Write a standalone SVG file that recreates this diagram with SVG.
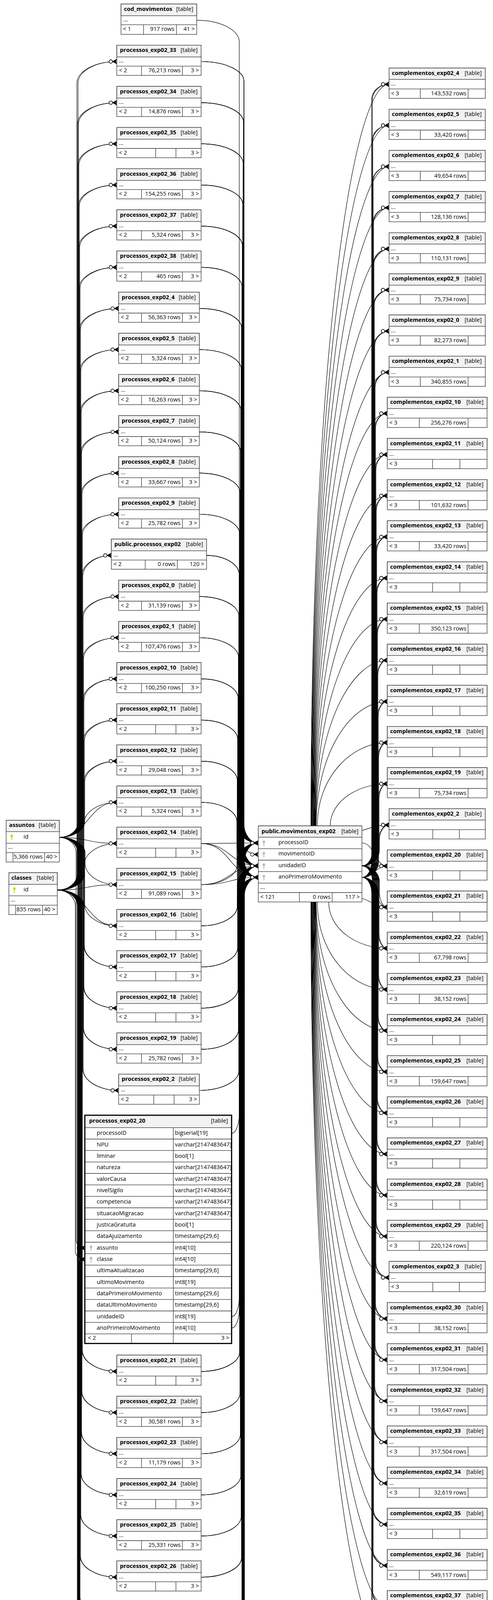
<svg xmlns="http://www.w3.org/2000/svg" xmlns:xlink="http://www.w3.org/1999/xlink" width="1263" height="4865" viewBox="0 0 1263 4865">
<defs>
<style>
text{font-family:"Open Sans","Noto Sans","DejaVu Sans",sans-serif;font-size:14.67px;fill:#000}
.b{font-weight:700}
.e{text-anchor:end}
.bx{fill:#fff;stroke:#333;stroke-width:1.3}
.hd{fill:#f2f2f2;stroke:#333;stroke-width:1.3}
.ln{fill:none;stroke:#333;stroke-width:1.3}
#connectors path{fill:none;stroke:#000;stroke-width:1.2;marker-end:url(#cf)}
</style>
<marker id="cf" markerUnits="userSpaceOnUse" viewBox="-22 -8 24 16" refX="0" refY="0" markerWidth="24" markerHeight="16" orient="auto">
<path d="M-11,0L0,-6L-3.5,0L0,6ZM-11,0H0" fill="#000" stroke="#000" stroke-width="1"/>
<circle cx="-15.5" cy="0" r="4.3" fill="#fff" stroke="#000" stroke-width="1.4"/>
</marker>
<g id="key"><circle r="3.4"/><rect x="-1.1" y="0" width="2.2" height="11"/></g>
<g id="f2"><rect class="bx" width="216" height="77.3"/><rect class="hd" width="216" height="30"/><path class="ln" d="M0,53.6H216M63.2,53.6V77.3M168,53.6V77.3"/></g>
<g id="f2b"><rect class="bx" width="216" height="77.3"/><rect class="hd" width="216" height="30"/><path class="ln" d="M0,53.6H216M99.4,53.6V77.3M151.4,53.6V77.3"/></g>
<g id="f1"><rect class="bx" width="206.6" height="77.3"/><rect class="hd" width="206.6" height="30"/><path class="ln" d="M0,53.6H206.6M58.5,53.6V77.3M163.3,53.6V77.3"/></g>
<g id="f1b"><rect class="bx" width="206.6" height="77.3"/><rect class="hd" width="206.6" height="30"/><path class="ln" d="M0,53.6H206.6M90,53.6V77.3M142,53.6V77.3"/></g>
<g id="c1"><rect class="bx" width="246.6" height="77.4"/><rect class="hd" width="246.6" height="29"/><path class="ln" d="M0,53.4H246.6M80,53.4V77.4M202.6,53.4V77.4"/></g>
<g id="c1b"><rect class="bx" width="246.6" height="77.4"/><rect class="hd" width="246.6" height="29"/><path class="ln" d="M0,53.4H246.6M112,53.4V77.4M180,53.4V77.4"/></g>
<g id="c2"><rect class="bx" width="255.6" height="77.4"/><rect class="hd" width="255.6" height="29"/><path class="ln" d="M0,53.4H255.6M82,53.4V77.4M207,53.4V77.4"/></g>
<g id="c2b"><rect class="bx" width="255.6" height="77.4"/><rect class="hd" width="255.6" height="29"/><path class="ln" d="M0,53.4H255.6M116,53.4V77.4M186,53.4V77.4"/></g>
</defs>
<rect width="1263" height="4865" fill="#fff"/>
<g id="connectors">
<path d="M504,51.8c60,0 109,25 109,55V2137.4c0,27.5 21.9,50 48.7,50"/>
<path d="M152,2143.8c26.4,0 48,-18 48,-40V212.5c0,-30 44.7,-55 99.3,-55"/>
<path d="M152,2143.8c27,0 49,-18 49,-40V317.9c0,-30 44.2,-55 98.3,-55"/>
<path d="M152,2143.8c27.5,0 50,-18 50,-40V423.2c0,-30 43.8,-55 97.3,-55"/>
<path d="M152,2143.8c28,0 51,-18 51,-40V528.6c0,-30 43.3,-55 96.3,-55"/>
<path d="M152,2143.8c28.6,0 52,-18 52,-40V633.9c0,-30 42.9,-55 95.3,-55"/>
<path d="M152,2143.8c29.2,0 53,-18 53,-40V739.3c0,-30 42.4,-55 94.3,-55"/>
<path d="M152,2143.8c29.7,0 54,-18 54,-40V844.7c0,-30 44.1,-55 98,-55"/>
<path d="M152,2143.8c30.3,0 55,-18 55,-40V950c0,-30 43.7,-55 97,-55"/>
<path d="M152,2143.8c30.8,0 56,-18 56,-40V1055.4c0,-30 43.2,-55 96,-55"/>
<path d="M152,2143.8c31.4,0 57,-18 57,-40V1160.7c0,-30 42.8,-55 95,-55"/>
<path d="M152,2143.8c31.9,0 58,-18 58,-40V1266.1c0,-30 42.3,-55 94,-55"/>
<path d="M152,2143.8c32.5,0 59,-18 59,-40V1371.5c0,-30 41.9,-55 93,-55"/>
<path d="M152,2143.8c33,0 60,-18 60,-40V1476.8c0,-30 33,-55 73.3,-55"/>
<path d="M152,2143.8c33.6,0 61,-18 61,-40V1582.2c0,-30 41,-55 91,-55"/>
<path d="M152,2143.8c34.1,0 62,-18 62,-40V1687.5c0,-30 40.5,-55 90,-55"/>
<path d="M152,2143.8c34.7,0 63,-18 63,-40V1792.9c0,-30 37.9,-55 84.3,-55"/>
<path d="M152,2143.8c35.2,0 64,-18 64,-40V1898.3c0,-30 37.5,-55 83.3,-55"/>
<path d="M152,2143.8c35.8,0 65,-18 65,-40V2003.6c0,-30 37,-55 82.3,-55"/>
<path d="M152,2143.8C225,2143.8 225,2054 299.3,2054"/>
<path d="M152,2143.8C225,2143.8 225,2159.3 299.3,2159.3"/>
<path d="M152,2143.8c36.3,0 66,18 66,40V2209.7c0,30 36.6,55 81.3,55"/>
<path d="M152,2143.8c35.8,0 65,18 65,40V2315.1c0,30 37,55 82.3,55"/>
<path d="M152,2143.8c35.2,0 64,18 64,40V2420.4c0,30 37.5,55 83.3,55"/>
<path d="M152,2143.8c34.7,0 63,18 63,40V2525.8c0,30 37.9,55 84.3,55"/>
<path d="M152,2143.8c34.1,0 62,18 62,40V2631.1c0,30 38.4,55 85.3,55"/>
<path d="M152,2143.8c33.6,0 61,18 61,40V2736.5c0,30 41,55 91,55"/>
<path d="M152,2143.8c23.7,0 43,18 43,40V3174.7c0,11 10,20 22.3,20"/>
<path d="M152,2143.8c32.5,0 59,18 59,40V3455.8c0,30 39.7,55 88.3,55"/>
<path d="M152,2143.8c31.9,0 58,18 58,40V3561.2c0,30 40.2,55 89.3,55"/>
<path d="M152,2143.8c31.4,0 57,18 57,40V3666.5c0,30 40.6,55 90.3,55"/>
<path d="M152,2143.8c30.8,0 56,18 56,40V3771.9c0,30 41.1,55 91.3,55"/>
<path d="M152,2143.8c30.3,0 55,18 55,40V3877.2c0,30 41.5,55 92.3,55"/>
<path d="M152,2143.8c29.7,0 54,18 54,40V3982.6c0,30 42,55 93.3,55"/>
<path d="M152,2143.8c29.2,0 53,18 53,40V4088c0,30 42.4,55 94.3,55"/>
<path d="M152,2143.8c28.6,0 52,18 52,40V4193.3c0,30 42.9,55 95.3,55"/>
<path d="M152,2143.8c28,0 51,18 51,40V4298.7c0,30 43.3,55 96.3,55"/>
<path d="M152,2143.8c27.5,0 50,18 50,40V4404c0,30 45.9,55 102,55"/>
<path d="M152,2143.8c27,0 49,18 49,40V4509.4c0,30 44.2,55 98.3,55"/>
<path d="M152,2143.8c26.4,0 48,18 48,40V4614.8c0,30 44.7,55 99.3,55"/>
<path d="M152,2143.8c25.9,0 47,18 47,40V4720.1c0,30 45.1,55 100.3,55"/>
<path d="M146.7,2278.7c27.7,0 50.3,-18 50.3,-40V212.5c0,-30 46,-55 102.3,-55"/>
<path d="M146.7,2278.7c28.2,0 51.3,-18 51.3,-40V317.9c0,-30 45.6,-55 101.3,-55"/>
<path d="M146.7,2278.7c28.8,0 52.3,-18 52.3,-40V423.2c0,-30 45.1,-55 100.3,-55"/>
<path d="M146.7,2278.7c29.3,0 53.3,-18 53.3,-40V528.6c0,-30 44.7,-55 99.3,-55"/>
<path d="M146.7,2278.7c29.9,0 54.3,-18 54.3,-40V633.9c0,-30 44.2,-55 98.3,-55"/>
<path d="M146.7,2278.7c30.4,0 55.3,-18 55.3,-40V739.3c0,-30 43.8,-55 97.3,-55"/>
<path d="M146.7,2278.7c31,0 56.3,-18 56.3,-40V844.7c0,-30 45.5,-55 101,-55"/>
<path d="M146.7,2278.7c31.5,0 57.3,-18 57.3,-40V950c0,-30 45,-55 100,-55"/>
<path d="M146.7,2278.7c32.1,0 58.3,-18 58.3,-40V1055.4c0,-30 44.6,-55 99,-55"/>
<path d="M146.7,2278.7c32.6,0 59.3,-18 59.3,-40V1160.7c0,-30 44.1,-55 98,-55"/>
<path d="M146.7,2278.7c33.2,0 60.3,-18 60.3,-40V1266.1c0,-30 43.7,-55 97,-55"/>
<path d="M146.7,2278.7c33.7,0 61.3,-18 61.3,-40V1371.5c0,-30 43.2,-55 96,-55"/>
<path d="M146.7,2278.7c34.3,0 62.3,-18 62.3,-40V1476.8c0,-30 34.3,-55 76.3,-55"/>
<path d="M146.7,2278.7c34.8,0 63.3,-18 63.3,-40V1582.2c0,-30 42.3,-55 94,-55"/>
<path d="M146.7,2278.7c35.4,0 64.3,-18 64.3,-40V1687.5c0,-30 41.9,-55 93,-55"/>
<path d="M146.7,2278.7c35.9,0 65.3,-18 65.3,-40V1792.9c0,-30 39.3,-55 87.3,-55"/>
<path d="M146.7,2278.7c36.5,0 66.3,-18 66.3,-40V1898.3c0,-30 38.8,-55 86.3,-55"/>
<path d="M146.7,2278.7c37,0 67.3,-18 67.3,-40V2003.6c0,-30 38.4,-55 85.3,-55"/>
<path d="M146.7,2278.7c37.6,0 68.3,-18 68.3,-40V2109c0,-30 37.9,-55 84.3,-55"/>
<path d="M146.7,2278.7c38.1,0 69.3,-18 69.3,-40V2214.3c0,-30 37.5,-55 83.3,-55"/>
<path d="M146.7,2278.7C222,2278.7 222,2264.7 299.3,2264.7"/>
<path d="M146.7,2278.7C222,2278.7 222,2370.1 299.3,2370.1"/>
<path d="M146.7,2278.7c37.6,0 68.3,18 68.3,40V2420.4c0,30 37.9,55 84.3,55"/>
<path d="M146.7,2278.7c37,0 67.3,18 67.3,40V2525.8c0,30 38.4,55 85.3,55"/>
<path d="M146.7,2278.7c36.5,0 66.3,18 66.3,40V2631.1c0,30 38.8,55 86.3,55"/>
<path d="M146.7,2278.7c35.9,0 65.3,18 65.3,40V2736.5c0,30 41.4,55 92,55"/>
<path d="M146.7,2278.7c25.5,0 46.3,18 46.3,40V3203.8c0,11 11,20 24.3,20"/>
<path d="M146.7,2278.7c34.8,0 63.3,18 63.3,40V3455.8c0,30 40.2,55 89.3,55"/>
<path d="M146.7,2278.7c34.3,0 62.3,18 62.3,40V3561.2c0,30 40.6,55 90.3,55"/>
<path d="M146.7,2278.7c33.7,0 61.3,18 61.3,40V3666.5c0,30 41.1,55 91.3,55"/>
<path d="M146.7,2278.7c33.2,0 60.3,18 60.3,40V3771.9c0,30 41.5,55 92.3,55"/>
<path d="M146.7,2278.7c32.6,0 59.3,18 59.3,40V3877.2c0,30 42,55 93.3,55"/>
<path d="M146.7,2278.7c32.1,0 58.3,18 58.3,40V3982.6c0,30 42.4,55 94.3,55"/>
<path d="M146.7,2278.7c31.5,0 57.3,18 57.3,40V4088c0,30 42.9,55 95.3,55"/>
<path d="M146.7,2278.7c31,0 56.3,18 56.3,40V4193.3c0,30 43.3,55 96.3,55"/>
<path d="M146.7,2278.7c30.4,0 55.3,18 55.3,40V4298.7c0,30 43.8,55 97.3,55"/>
<path d="M146.7,2278.7c29.9,0 54.3,18 54.3,40V4404c0,30 46.4,55 103,55"/>
<path d="M146.7,2278.7c29.3,0 53.3,18 53.3,40V4509.4c0,30 44.7,55 99.3,55"/>
<path d="M146.7,2278.7c28.8,0 52.3,18 52.3,40V4614.8c0,30 45.1,55 100.3,55"/>
<path d="M146.7,2278.7c28.2,0 51.3,18 51.3,40V4720.1c0,30 45.6,55 101.3,55"/>
<path d="M515.3,157.5c60.3,0 109.7,22.5 109.7,50V2108c0,27.5 16.5,50 36.7,50"/>
<path d="M515.3,157.5c60.3,0 109.7,22.5 109.7,50V2166.7c0,27.5 16.5,50 36.7,50"/>
<path d="M515.3,157.5c60.3,0 109.7,22.5 109.7,50V2196c0,27.5 16.5,50 36.7,50"/>
<path d="M515.3,262.9c59.8,0 108.7,22.5 108.7,50V2108c0,27.5 17,50 37.7,50"/>
<path d="M515.3,262.9c59.8,0 108.7,22.5 108.7,50V2166.7c0,27.5 17,50 37.7,50"/>
<path d="M515.3,262.9c59.8,0 108.7,22.5 108.7,50V2196c0,27.5 17,50 37.7,50"/>
<path d="M515.3,368.2c59.2,0 107.7,22.5 107.7,50V2108c0,27.5 17.4,50 38.7,50"/>
<path d="M515.3,368.2c59.2,0 107.7,22.5 107.7,50V2166.7c0,27.5 17.4,50 38.7,50"/>
<path d="M515.3,368.2c59.2,0 107.7,22.5 107.7,50V2196c0,27.5 17.4,50 38.7,50"/>
<path d="M515.3,473.6c58.7,0 106.7,22.5 106.7,50V2108c0,27.5 17.9,50 39.7,50"/>
<path d="M515.3,473.6c58.7,0 106.7,22.5 106.7,50V2166.7c0,27.5 17.9,50 39.7,50"/>
<path d="M515.3,473.6c58.7,0 106.7,22.5 106.7,50V2196c0,27.5 17.9,50 39.7,50"/>
<path d="M515.3,578.9c58.1,0 105.7,22.5 105.7,50V2108c0,27.5 18.3,50 40.7,50"/>
<path d="M515.3,578.9c58.1,0 105.7,22.5 105.7,50V2166.7c0,27.5 18.3,50 40.7,50"/>
<path d="M515.3,578.9c58.1,0 105.7,22.5 105.7,50V2196c0,27.5 18.3,50 40.7,50"/>
<path d="M515.3,684.3c57.6,0 104.7,22.5 104.7,50V2108c0,27.5 18.8,50 41.7,50"/>
<path d="M515.3,684.3c57.6,0 104.7,22.5 104.7,50V2166.7c0,27.5 18.8,50 41.7,50"/>
<path d="M515.3,684.3c57.6,0 104.7,22.5 104.7,50V2196c0,27.5 18.8,50 41.7,50"/>
<path d="M510.6,789.7c59.6,0 108.4,22.5 108.4,50V2108c0,27.5 19.2,50 42.7,50"/>
<path d="M510.6,789.7c59.6,0 108.4,22.5 108.4,50V2166.7c0,27.5 19.2,50 42.7,50"/>
<path d="M510.6,789.7c59.6,0 108.4,22.5 108.4,50V2196c0,27.5 19.2,50 42.7,50"/>
<path d="M510.6,895c59.1,0 107.4,22.5 107.4,50V2108c0,27.5 19.7,50 43.7,50"/>
<path d="M510.6,895c59.1,0 107.4,22.5 107.4,50V2166.7c0,27.5 19.7,50 43.7,50"/>
<path d="M510.6,895c59.1,0 107.4,22.5 107.4,50V2196c0,27.5 19.7,50 43.7,50"/>
<path d="M510.6,1000.4c58.5,0 106.4,22.5 106.4,50V2108c0,27.5 20.1,50 44.7,50"/>
<path d="M510.6,1000.4c58.5,0 106.4,22.5 106.4,50V2166.7c0,27.5 20.1,50 44.7,50"/>
<path d="M510.6,1000.4c58.5,0 106.4,22.5 106.4,50V2196c0,27.5 20.1,50 44.7,50"/>
<path d="M510.6,1105.7c58,0 105.4,22.5 105.4,50V2108c0,27.5 20.6,50 45.7,50"/>
<path d="M510.6,1105.7c58,0 105.4,22.5 105.4,50V2166.7c0,27.5 20.6,50 45.7,50"/>
<path d="M510.6,1105.7c58,0 105.4,22.5 105.4,50V2196c0,27.5 20.6,50 45.7,50"/>
<path d="M510.6,1211.1c57.4,0 104.4,22.5 104.4,50V2108c0,27.5 21,50 46.7,50"/>
<path d="M510.6,1211.1c57.4,0 104.4,22.5 104.4,50V2166.7c0,27.5 21,50 46.7,50"/>
<path d="M510.6,1211.1c57.4,0 104.4,22.5 104.4,50V2196c0,27.5 21,50 46.7,50"/>
<path d="M510.6,1316.5c56.9,0 103.4,22.5 103.4,50V2108c0,27.5 21.5,50 47.7,50"/>
<path d="M510.6,1316.5c56.9,0 103.4,22.5 103.4,50V2166.7c0,27.5 21.5,50 47.7,50"/>
<path d="M510.6,1316.5c56.9,0 103.4,22.5 103.4,50V2196c0,27.5 21.5,50 47.7,50"/>
<path d="M529.3,1421.8c46,0 83.7,22.5 83.7,50V2108c0,27.5 21.9,50 48.7,50"/>
<path d="M529.3,1421.8c46,0 83.7,22.5 83.7,50V2166.7c0,27.5 21.9,50 48.7,50"/>
<path d="M529.3,1421.8c46,0 83.7,22.5 83.7,50V2196c0,27.5 21.9,50 48.7,50"/>
<path d="M510.6,1527.2c55.8,0 101.4,22.5 101.4,50V2108c0,27.5 22.4,50 49.7,50"/>
<path d="M510.6,1527.2c55.8,0 101.4,22.5 101.4,50V2166.7c0,27.5 22.4,50 49.7,50"/>
<path d="M510.6,1527.2c55.8,0 101.4,22.5 101.4,50V2196c0,27.5 22.4,50 49.7,50"/>
<path d="M510.6,1632.5c55.2,0 100.4,22.5 100.4,50V2108c0,27.5 22.8,50 50.7,50"/>
<path d="M510.6,1632.5c55.2,0 100.4,22.5 100.4,50V2166.7c0,27.5 22.8,50 50.7,50"/>
<path d="M510.6,1632.5c55.2,0 100.4,22.5 100.4,50V2196c0,27.5 22.8,50 50.7,50"/>
<path d="M515.3,1737.9c52.1,0 94.7,22.5 94.7,50V2108c0,27.5 23.3,50 51.7,50"/>
<path d="M515.3,1737.9c52.1,0 94.7,22.5 94.7,50V2166.7c0,27.5 23.3,50 51.7,50"/>
<path d="M515.3,1737.9c52.1,0 94.7,22.5 94.7,50V2196c0,27.5 23.3,50 51.7,50"/>
<path d="M515.3,1843.3c51.5,0 93.7,22.5 93.7,50V2108c0,27.5 23.7,50 52.7,50"/>
<path d="M515.3,1843.3c51.5,0 93.7,22.5 93.7,50V2166.7c0,27.5 23.7,50 52.7,50"/>
<path d="M515.3,1843.3c51.5,0 93.7,22.5 93.7,50V2196c0,27.5 23.7,50 52.7,50"/>
<path d="M515.3,1948.6c51,0 92.7,22.5 92.7,50V2108c0,27.5 24.2,50 53.7,50"/>
<path d="M515.3,1948.6c51,0 92.7,22.5 92.7,50V2166.7c0,27.5 24.2,50 53.7,50"/>
<path d="M515.3,1948.6c51,0 92.7,22.5 92.7,50V2196c0,27.5 24.2,50 53.7,50"/>
<path d="M515.3,2054c50.4,0 91.7,22.5 91.7,50V2108c0,27.5 24.6,50 54.7,50"/>
<path d="M515.3,2054c50.4,0 91.7,22.5 91.7,50V2166.7c0,27.5 24.6,50 54.7,50"/>
<path d="M515.3,2054c50.4,0 91.7,22.5 91.7,50V2196c0,27.5 24.6,50 54.7,50"/>
<path d="M515.3,2159.3C590,2159.3 590,2158 661.7,2158"/>
<path d="M515.3,2159.3C590,2159.3 590,2216.7 661.7,2216.7"/>
<path d="M515.3,2159.3C590,2159.3 590,2246 661.7,2246"/>
<path d="M515.3,2264.7c50.4,0 91.7,-22.5 91.7,-50V2208c0,-27.5 24.6,-50 54.7,-50"/>
<path d="M515.3,2264.7C590,2264.7 590,2216.7 661.7,2216.7"/>
<path d="M515.3,2264.7C590,2264.7 590,2246 661.7,2246"/>
<path d="M515.3,2370.1c51,0 92.7,-22.5 92.7,-50V2208c0,-27.5 24.2,-50 53.7,-50"/>
<path d="M515.3,2370.1c51,0 92.7,-22.5 92.7,-50V2266.7c0,-27.5 24.2,-50 53.7,-50"/>
<path d="M515.3,2370.1c51,0 92.7,-22.5 92.7,-50V2296c0,-27.5 24.2,-50 53.7,-50"/>
<path d="M515.3,2475.4c51.5,0 93.7,-22.5 93.7,-50V2208c0,-27.5 23.7,-50 52.7,-50"/>
<path d="M515.3,2475.4c51.5,0 93.7,-22.5 93.7,-50V2266.7c0,-27.5 23.7,-50 52.7,-50"/>
<path d="M515.3,2475.4c51.5,0 93.7,-22.5 93.7,-50V2296c0,-27.5 23.7,-50 52.7,-50"/>
<path d="M515.3,2580.8c52.1,0 94.7,-22.5 94.7,-50V2208c0,-27.5 23.3,-50 51.7,-50"/>
<path d="M515.3,2580.8c52.1,0 94.7,-22.5 94.7,-50V2266.7c0,-27.5 23.3,-50 51.7,-50"/>
<path d="M515.3,2580.8c52.1,0 94.7,-22.5 94.7,-50V2296c0,-27.5 23.3,-50 51.7,-50"/>
<path d="M515.3,2686.1c52.6,0 95.7,-22.5 95.7,-50V2208c0,-27.5 22.8,-50 50.7,-50"/>
<path d="M515.3,2686.1c52.6,0 95.7,-22.5 95.7,-50V2266.7c0,-27.5 22.8,-50 50.7,-50"/>
<path d="M515.3,2686.1c52.6,0 95.7,-22.5 95.7,-50V2296c0,-27.5 22.8,-50 50.7,-50"/>
<path d="M510.6,2791.5c55.8,0 101.4,-22.5 101.4,-50V2208c0,-27.5 22.4,-50 49.7,-50"/>
<path d="M510.6,2791.5c55.8,0 101.4,-22.5 101.4,-50V2266.7c0,-27.5 22.4,-50 49.7,-50"/>
<path d="M510.6,2791.5c55.8,0 101.4,-22.5 101.4,-50V2296c0,-27.5 22.4,-50 49.7,-50"/>
<path d="M593.3,2901.4c10.8,0 19.7,-22.5 19.7,-50V2208c0,-27.5 21.9,-50 48.7,-50"/>
<path d="M593.3,3370.6c10.8,0 19.7,-22.5 19.7,-50V2266.7c0,-27.5 21.9,-50 48.7,-50"/>
<path d="M593.3,3400c10.8,0 19.7,-22.5 19.7,-50V2296c0,-27.5 21.9,-50 48.7,-50"/>
<path d="M515.3,3510.8c54.3,0 98.7,-22.5 98.7,-50V2208c0,-27.5 21.5,-50 47.7,-50"/>
<path d="M515.3,3510.8c54.3,0 98.7,-22.5 98.7,-50V2266.7c0,-27.5 21.5,-50 47.7,-50"/>
<path d="M515.3,3510.8c54.3,0 98.7,-22.5 98.7,-50V2296c0,-27.5 21.5,-50 47.7,-50"/>
<path d="M515.3,3616.2c54.8,0 99.7,-22.5 99.7,-50V2208c0,-27.5 21,-50 46.7,-50"/>
<path d="M515.3,3616.2c54.8,0 99.7,-22.5 99.7,-50V2266.7c0,-27.5 21,-50 46.7,-50"/>
<path d="M515.3,3616.2c54.8,0 99.7,-22.5 99.7,-50V2296c0,-27.5 21,-50 46.7,-50"/>
<path d="M515.3,3721.5c55.4,0 100.7,-22.5 100.7,-50V2208c0,-27.5 20.6,-50 45.7,-50"/>
<path d="M515.3,3721.5c55.4,0 100.7,-22.5 100.7,-50V2266.7c0,-27.5 20.6,-50 45.7,-50"/>
<path d="M515.3,3721.5c55.4,0 100.7,-22.5 100.7,-50V2296c0,-27.5 20.6,-50 45.7,-50"/>
<path d="M515.3,3826.9c55.9,0 101.7,-22.5 101.7,-50V2208c0,-27.5 20.1,-50 44.7,-50"/>
<path d="M515.3,3826.9c55.9,0 101.7,-22.5 101.7,-50V2266.7c0,-27.5 20.1,-50 44.7,-50"/>
<path d="M515.3,3826.9c55.9,0 101.7,-22.5 101.7,-50V2296c0,-27.5 20.1,-50 44.7,-50"/>
<path d="M515.3,3932.2c56.5,0 102.7,-22.5 102.7,-50V2208c0,-27.5 19.7,-50 43.7,-50"/>
<path d="M515.3,3932.2c56.5,0 102.7,-22.5 102.7,-50V2266.7c0,-27.5 19.7,-50 43.7,-50"/>
<path d="M515.3,3932.2c56.5,0 102.7,-22.5 102.7,-50V2296c0,-27.5 19.7,-50 43.7,-50"/>
<path d="M515.3,4037.6c57,0 103.7,-22.5 103.7,-50V2208c0,-27.5 19.2,-50 42.7,-50"/>
<path d="M515.3,4037.6c57,0 103.7,-22.5 103.7,-50V2266.7c0,-27.5 19.2,-50 42.7,-50"/>
<path d="M515.3,4037.6c57,0 103.7,-22.5 103.7,-50V2296c0,-27.5 19.2,-50 42.7,-50"/>
<path d="M515.3,4143c57.6,0 104.7,-22.5 104.7,-50V2208c0,-27.5 18.8,-50 41.7,-50"/>
<path d="M515.3,4143c57.6,0 104.7,-22.5 104.7,-50V2266.7c0,-27.5 18.8,-50 41.7,-50"/>
<path d="M515.3,4143c57.6,0 104.7,-22.5 104.7,-50V2296c0,-27.5 18.8,-50 41.7,-50"/>
<path d="M515.3,4248.3c58.1,0 105.7,-22.5 105.7,-50V2208c0,-27.5 18.3,-50 40.7,-50"/>
<path d="M515.3,4248.3c58.1,0 105.7,-22.5 105.7,-50V2266.7c0,-27.5 18.3,-50 40.7,-50"/>
<path d="M515.3,4248.3c58.1,0 105.7,-22.5 105.7,-50V2296c0,-27.5 18.3,-50 40.7,-50"/>
<path d="M515.3,4353.7c58.7,0 106.7,-22.5 106.7,-50V2208c0,-27.5 17.9,-50 39.7,-50"/>
<path d="M515.3,4353.7c58.7,0 106.7,-22.5 106.7,-50V2266.7c0,-27.5 17.9,-50 39.7,-50"/>
<path d="M515.3,4353.7c58.7,0 106.7,-22.5 106.7,-50V2296c0,-27.5 17.9,-50 39.7,-50"/>
<path d="M510.6,4459c61.8,0 112.4,-22.5 112.4,-50V2208c0,-27.5 17.4,-50 38.7,-50"/>
<path d="M510.6,4459c61.8,0 112.4,-22.5 112.4,-50V2266.7c0,-27.5 17.4,-50 38.7,-50"/>
<path d="M510.6,4459c61.8,0 112.4,-22.5 112.4,-50V2296c0,-27.5 17.4,-50 38.7,-50"/>
<path d="M515.3,4564.4c59.8,0 108.7,-22.5 108.7,-50V2208c0,-27.5 17,-50 37.7,-50"/>
<path d="M515.3,4564.4c59.8,0 108.7,-22.5 108.7,-50V2266.7c0,-27.5 17,-50 37.7,-50"/>
<path d="M515.3,4564.4c59.8,0 108.7,-22.5 108.7,-50V2296c0,-27.5 17,-50 37.7,-50"/>
<path d="M515.3,4669.8c60.3,0 109.7,-22.5 109.7,-50V2208c0,-27.5 16.5,-50 36.7,-50"/>
<path d="M515.3,4669.8c60.3,0 109.7,-22.5 109.7,-50V2266.7c0,-27.5 16.5,-50 36.7,-50"/>
<path d="M515.3,4669.8c60.3,0 109.7,-22.5 109.7,-50V2296c0,-27.5 16.5,-50 36.7,-50"/>
<path d="M515.3,4775.1c60.9,0 110.7,-22.5 110.7,-50V2208c0,-27.5 16.1,-50 35.7,-50"/>
<path d="M515.3,4775.1c60.9,0 110.7,-22.5 110.7,-50V2266.7c0,-27.5 16.1,-50 35.7,-50"/>
<path d="M515.3,4775.1c60.9,0 110.7,-22.5 110.7,-50V2296c0,-27.5 16.1,-50 35.7,-50"/>
<path d="M796.5,2114.3C796.5,975.1 896.6,215.7 996.7,215.7"/>
<path d="M797.4,2114.3C797.4,1038.3 897.1,321 996.7,321"/>
<path d="M798.3,2114.3C798.3,1101.6 897.5,426.4 996.7,426.4"/>
<path d="M799.2,2114.3C799.2,1164.7 898,531.7 996.7,531.7"/>
<path d="M800.1,2114.3C800.1,1228 898.4,637.1 996.7,637.1"/>
<path d="M801,2114.3C801,1291.2 898.9,742.4 996.7,742.4"/>
<path d="M801.9,2114.3C801.9,1354.3 899.3,847.7 996.7,847.7"/>
<path d="M802.8,2114.3C802.8,1417.6 899.8,953.1 996.7,953.1"/>
<path d="M803.7,2114.3C803.7,1480.8 897.9,1058.4 992.2,1058.4"/>
<path d="M804.6,2114.3C804.6,1544 898.4,1163.8 992.2,1163.8"/>
<path d="M805.5,2114.3C805.5,1607.2 898.9,1269.1 992.2,1269.1"/>
<path d="M806.4,2114.3C806.4,1670.4 899.3,1374.4 992.2,1374.4"/>
<path d="M807.3,2114.3C807.3,1733.6 899.8,1479.8 992.2,1479.8"/>
<path d="M808.2,2114.3C808.2,1796.8 900.2,1585.1 992.2,1585.1"/>
<path d="M809.1,2114.3C809.1,1860 900.7,1690.5 992.2,1690.5"/>
<path d="M810,2114.3C810,1923.2 901.1,1795.8 992.2,1795.8"/>
<path d="M813,2114.3C813,1986.4 902.6,1901.1 992.2,1901.1"/>
<path d="M846,2114.3C846,2049.6 919.1,2006.5 992.2,2006.5"/>
<path d="M927.3,2126C950,2120 965,2111.8 996.7,2111.8"/>
<path d="M927.3,2158C960,2158 960,2217.2 992.2,2217.2"/>
<path d="M927.3,2300C950,2306 965,2322.5 992.2,2322.5"/>
<path d="M842,2309C842,2380.3 917.1,2427.8 992.2,2427.8"/>
<path d="M813,2309C813,2443.5 902.6,2533.2 992.2,2533.2"/>
<path d="M810,2309C810,2506.7 901.1,2638.5 992.2,2638.5"/>
<path d="M809.1,2309C809.1,2569.9 900.7,2743.9 992.2,2743.9"/>
<path d="M808.2,2309C808.2,2633.1 900.2,2849.2 992.2,2849.2"/>
<path d="M807.3,2309C807.3,2696.3 899.8,2954.5 992.2,2954.5"/>
<path d="M806.4,2309C806.4,2759.5 899.3,3059.9 992.2,3059.9"/>
<path d="M805.5,2309C805.5,2822.7 898.9,3165.2 992.2,3165.2"/>
<path d="M804.6,2309C804.6,2886 900.7,3270.6 996.7,3270.6"/>
<path d="M803.7,2309C803.7,2949.1 897.9,3375.9 992.2,3375.9"/>
<path d="M802.8,2309C802.8,3012.3 897.5,3481.2 992.2,3481.2"/>
<path d="M801.9,2309C801.9,3075.6 897.1,3586.6 992.2,3586.6"/>
<path d="M801,2309C801,3138.7 896.6,3691.9 992.2,3691.9"/>
<path d="M800.1,2309C800.1,3202 896.2,3797.3 992.2,3797.3"/>
<path d="M799.2,2309C799.2,3265.2 895.7,3902.6 992.2,3902.6"/>
<path d="M798.3,2309C798.3,3328.3 895.3,4007.9 992.2,4007.9"/>
<path d="M797.4,2309C797.4,3391.6 894.8,4113.3 992.2,4113.3"/>
<path d="M796.5,2309C796.5,3454.8 894.4,4218.6 992.2,4218.6"/>
<path d="M927.3,2216.7c14.7,0 26.7,-18 26.7,-40V255.7c0,-22 19.2,-40 42.7,-40"/>
<path d="M927.3,2246c13.6,0 24.7,-18 24.7,-40V255.7c0,-22 20.1,-40 44.7,-40"/>
<path d="M927.3,2216.7c15.2,0 27.7,-18 27.7,-40V361c0,-22 18.8,-40 41.7,-40"/>
<path d="M927.3,2246c14.1,0 25.7,-18 25.7,-40V361c0,-22 19.7,-40 43.7,-40"/>
<path d="M927.3,2216.7c15.8,0 28.7,-18 28.7,-40V466.4c0,-22 18.3,-40 40.7,-40"/>
<path d="M927.3,2246c14.7,0 26.7,-18 26.7,-40V466.4c0,-22 19.2,-40 42.7,-40"/>
<path d="M927.3,2216.7c16.3,0 29.7,-18 29.7,-40V571.7c0,-22 17.9,-40 39.7,-40"/>
<path d="M927.3,2246c15.2,0 27.7,-18 27.7,-40V571.7c0,-22 18.8,-40 41.7,-40"/>
<path d="M927.3,2216.7c16.9,0 30.7,-18 30.7,-40V677.1c0,-22 17.4,-40 38.7,-40"/>
<path d="M927.3,2246c15.8,0 28.7,-18 28.7,-40V677.1c0,-22 18.3,-40 40.7,-40"/>
<path d="M927.3,2216.7c17.4,0 31.7,-18 31.7,-40V782.4c0,-22 17,-40 37.7,-40"/>
<path d="M927.3,2246c16.3,0 29.7,-18 29.7,-40V782.4c0,-22 17.9,-40 39.7,-40"/>
<path d="M927.3,2216.7c18,0 32.7,-18 32.7,-40V887.7c0,-22 16.5,-40 36.7,-40"/>
<path d="M927.3,2246c16.9,0 30.7,-18 30.7,-40V887.7c0,-22 17.4,-40 38.7,-40"/>
<path d="M927.3,2216.7c18.5,0 33.7,-18 33.7,-40V993.1c0,-22 16.1,-40 35.7,-40"/>
<path d="M927.3,2246c17.4,0 31.7,-18 31.7,-40V993.1c0,-22 17,-40 37.7,-40"/>
<path d="M927.3,2216.7c19.1,0 34.7,-18 34.7,-40V1098.4c0,-22 13.6,-40 30.2,-40"/>
<path d="M927.3,2246c18,0 32.7,-18 32.7,-40V1098.4c0,-22 14.5,-40 32.2,-40"/>
<path d="M927.3,2216.7c19.6,0 35.7,-18 35.7,-40V1203.8c0,-22 13.1,-40 29.2,-40"/>
<path d="M927.3,2246c18.5,0 33.7,-18 33.7,-40V1203.8c0,-22 14,-40 31.2,-40"/>
<path d="M927.3,2216.7c20.2,0 36.7,-18 36.7,-40V1309.1c0,-22 12.7,-40 28.2,-40"/>
<path d="M927.3,2246c19.1,0 34.7,-18 34.7,-40V1309.1c0,-22 13.6,-40 30.2,-40"/>
<path d="M927.3,2216.7c20.7,0 37.7,-18 37.7,-40V1414.4c0,-22 12.2,-40 27.2,-40"/>
<path d="M927.3,2246c19.6,0 35.7,-18 35.7,-40V1414.4c0,-22 13.1,-40 29.2,-40"/>
<path d="M927.3,2216.7c21.3,0 38.7,-18 38.7,-40V1519.8c0,-22 11.8,-40 26.2,-40"/>
<path d="M927.3,2246c20.2,0 36.7,-18 36.7,-40V1519.8c0,-22 12.7,-40 28.2,-40"/>
<path d="M927.3,2216.7c21.8,0 39.7,-18 39.7,-40V1625.1c0,-22 11.3,-40 25.2,-40"/>
<path d="M927.3,2246c20.7,0 37.7,-18 37.7,-40V1625.1c0,-22 12.2,-40 27.2,-40"/>
<path d="M927.3,2216.7c22.4,0 40.7,-18 40.7,-40V1730.5c0,-22 10.9,-40 24.2,-40"/>
<path d="M927.3,2246c21.3,0 38.7,-18 38.7,-40V1730.5c0,-22 11.8,-40 26.2,-40"/>
<path d="M927.3,2216.7c22.9,0 41.7,-18 41.7,-40V1835.8c0,-22 10.4,-40 23.2,-40"/>
<path d="M927.3,2246c21.8,0 39.7,-18 39.7,-40V1835.8c0,-22 11.3,-40 25.2,-40"/>
<path d="M927.3,2216.7c23.5,0 42.7,-18 42.7,-40V1941.1c0,-22 10,-40 22.2,-40"/>
<path d="M927.3,2246c22.4,0 40.7,-18 40.7,-40V1941.1c0,-22 10.9,-40 24.2,-40"/>
<path d="M927.3,2216.7c24,0 43.7,-18 43.7,-40V2046.5c0,-22 9.5,-40 21.2,-40"/>
<path d="M927.3,2246c22.9,0 41.7,-18 41.7,-40V2046.5c0,-22 10.4,-40 23.2,-40"/>
<path d="M927.3,2216.7c24.6,0 44.7,-18 44.7,-40V2151.8c0,-22 11.1,-40 24.7,-40"/>
<path d="M927.3,2246c23.5,0 42.7,-18 42.7,-40V2151.8c0,-22 12,-40 26.7,-40"/>
<path d="M927.3,2216.7L992.2,2217.2"/>
<path d="M927.3,2246C960,2246 960,2217.2 992.2,2217.2"/>
<path d="M927.3,2216.7c24.6,0 44.7,18 44.7,40V2282.5c0,22 9.1,40 20.2,40"/>
<path d="M927.3,2246C960,2246 960,2322.5 992.2,2322.5"/>
<path d="M927.3,2216.7c24,0 43.7,18 43.7,40V2387.8c0,22 9.5,40 21.2,40"/>
<path d="M927.3,2246c22.9,0 41.7,18 41.7,40V2387.8c0,22 10.4,40 23.2,40"/>
<path d="M927.3,2216.7c23.5,0 42.7,18 42.7,40V2493.2c0,22 10,40 22.2,40"/>
<path d="M927.3,2246c22.4,0 40.7,18 40.7,40V2493.2c0,22 10.9,40 24.2,40"/>
<path d="M927.3,2216.7c22.9,0 41.7,18 41.7,40V2598.5c0,22 10.4,40 23.2,40"/>
<path d="M927.3,2246c21.8,0 39.7,18 39.7,40V2598.5c0,22 11.3,40 25.2,40"/>
<path d="M927.3,2216.7c22.4,0 40.7,18 40.7,40V2703.9c0,22 10.9,40 24.2,40"/>
<path d="M927.3,2246c21.3,0 38.7,18 38.7,40V2703.9c0,22 11.8,40 26.2,40"/>
<path d="M927.3,2216.7c21.8,0 39.7,18 39.7,40V2809.2c0,22 11.3,40 25.2,40"/>
<path d="M927.3,2246c20.7,0 37.7,18 37.7,40V2809.2c0,22 12.2,40 27.2,40"/>
<path d="M927.3,2216.7c21.3,0 38.7,18 38.7,40V2914.5c0,22 11.8,40 26.2,40"/>
<path d="M927.3,2246c20.2,0 36.7,18 36.7,40V2914.5c0,22 12.7,40 28.2,40"/>
<path d="M927.3,2216.7c20.7,0 37.7,18 37.7,40V3019.9c0,22 12.2,40 27.2,40"/>
<path d="M927.3,2246c19.6,0 35.7,18 35.7,40V3019.9c0,22 13.1,40 29.2,40"/>
<path d="M927.3,2216.7c20.2,0 36.7,18 36.7,40V3125.2c0,22 12.7,40 28.2,40"/>
<path d="M927.3,2246c19.1,0 34.7,18 34.7,40V3125.2c0,22 13.6,40 30.2,40"/>
<path d="M927.3,2216.7c19.6,0 35.7,18 35.7,40V3230.6c0,22 15.2,40 33.7,40"/>
<path d="M927.3,2246c18.5,0 33.7,18 33.7,40V3230.6c0,22 16.1,40 35.7,40"/>
<path d="M927.3,2216.7c19.1,0 34.7,18 34.7,40V3335.9c0,22 13.6,40 30.2,40"/>
<path d="M927.3,2246c18,0 32.7,18 32.7,40V3335.9c0,22 14.5,40 32.2,40"/>
<path d="M927.3,2216.7c18.5,0 33.7,18 33.7,40V3441.2c0,22 14,40 31.2,40"/>
<path d="M927.3,2246c17.4,0 31.7,18 31.7,40V3441.2c0,22 14.9,40 33.2,40"/>
<path d="M927.3,2216.7c18,0 32.7,18 32.7,40V3546.6c0,22 14.5,40 32.2,40"/>
<path d="M927.3,2246c16.9,0 30.7,18 30.7,40V3546.6c0,22 15.4,40 34.2,40"/>
<path d="M927.3,2216.7c17.4,0 31.7,18 31.7,40V3651.9c0,22 14.9,40 33.2,40"/>
<path d="M927.3,2246c16.3,0 29.7,18 29.7,40V3651.9c0,22 15.8,40 35.2,40"/>
<path d="M927.3,2216.7c16.9,0 30.7,18 30.7,40V3757.3c0,22 15.4,40 34.2,40"/>
<path d="M927.3,2246c15.8,0 28.7,18 28.7,40V3757.3c0,22 16.3,40 36.2,40"/>
<path d="M927.3,2216.7c16.3,0 29.7,18 29.7,40V3862.6c0,22 15.8,40 35.2,40"/>
<path d="M927.3,2246c15.2,0 27.7,18 27.7,40V3862.6c0,22 16.7,40 37.2,40"/>
<path d="M927.3,2216.7c15.8,0 28.7,18 28.7,40V3967.9c0,22 16.3,40 36.2,40"/>
<path d="M927.3,2246c14.7,0 26.7,18 26.7,40V3967.9c0,22 17.2,40 38.2,40"/>
<path d="M927.3,2216.7c15.2,0 27.7,18 27.7,40V4073.3c0,22 16.7,40 37.2,40"/>
<path d="M927.3,2246c14.1,0 25.7,18 25.7,40V4073.3c0,22 17.6,40 39.2,40"/>
<path d="M927.3,2216.7c14.7,0 26.7,18 26.7,40V4178.6c0,22 17.2,40 38.2,40"/>
<path d="M927.3,2246c13.6,0 24.7,18 24.7,40V4178.6c0,22 18.1,40 40.2,40"/>
</g>
<g id="tables">
<g id="cod_movimentos" transform="translate(310,10.3)"><rect class="bx" width="194" height="77.7"/><rect class="hd" width="194" height="30"/><path class="ln" d="M0,53H194M57.7,53V77.7M142,53V77.7"/><text class="b" x="7.7" y="17.5">cod_movimentos</text><text class="e" x="185" y="17.5">[table]</text><text x="6" y="44.5">...</text><text x="5" y="69">&lt; 1</text><text class="e" x="136.7" y="69">917 rows</text><text class="e" x="189" y="69">41 &gt;</text></g>
<g id="processos_exp02_33" transform="translate(299.3,115.7)"><use href="#f2"/><text class="b" x="8" y="17.8">processos_exp02_33</text><text class="e" x="207" y="17.8">[table]</text><text x="5.5" y="44.8">...</text><text x="5.5" y="69.3">&lt; 2</text><text class="e" x="163.5" y="69.3">76,213 rows</text><text class="e" x="210.3" y="69.3">3 &gt;</text></g>
<g id="processos_exp02_34" transform="translate(299.3,221.1)"><use href="#f2"/><text class="b" x="8" y="17.8">processos_exp02_34</text><text class="e" x="207" y="17.8">[table]</text><text x="5.5" y="44.8">...</text><text x="5.5" y="69.3">&lt; 2</text><text class="e" x="163.5" y="69.3">14,876 rows</text><text class="e" x="210.3" y="69.3">3 &gt;</text></g>
<g id="processos_exp02_35" transform="translate(299.3,326.4)"><use href="#f2b"/><text class="b" x="8" y="17.8">processos_exp02_35</text><text class="e" x="207" y="17.8">[table]</text><text x="5.5" y="44.8">...</text><text x="5.5" y="69.3">&lt; 2</text><text class="e" x="210.3" y="69.3">3 &gt;</text></g>
<g id="processos_exp02_36" transform="translate(299.3,431.8)"><use href="#f2"/><text class="b" x="8" y="17.8">processos_exp02_36</text><text class="e" x="207" y="17.8">[table]</text><text x="5.5" y="44.8">...</text><text x="5.5" y="69.3">&lt; 2</text><text class="e" x="163.5" y="69.3">154,255 rows</text><text class="e" x="210.3" y="69.3">3 &gt;</text></g>
<g id="processos_exp02_37" transform="translate(299.3,537.1)"><use href="#f2"/><text class="b" x="8" y="17.8">processos_exp02_37</text><text class="e" x="207" y="17.8">[table]</text><text x="5.5" y="44.8">...</text><text x="5.5" y="69.3">&lt; 2</text><text class="e" x="163.5" y="69.3">5,324 rows</text><text class="e" x="210.3" y="69.3">3 &gt;</text></g>
<g id="processos_exp02_38" transform="translate(299.3,642.5)"><use href="#f2"/><text class="b" x="8" y="17.8">processos_exp02_38</text><text class="e" x="207" y="17.8">[table]</text><text x="5.5" y="44.8">...</text><text x="5.5" y="69.3">&lt; 2</text><text class="e" x="163.5" y="69.3">465 rows</text><text class="e" x="210.3" y="69.3">3 &gt;</text></g>
<g id="processos_exp02_4" transform="translate(304,747.9)"><use href="#f1"/><text class="b" x="7.7" y="17.8">processos_exp02_4</text><text class="e" x="197.6" y="17.8">[table]</text><text x="5.5" y="44.8">...</text><text x="5.5" y="69.3">&lt; 2</text><text class="e" x="158.5" y="69.3">56,363 rows</text><text class="e" x="200.9" y="69.3">3 &gt;</text></g>
<g id="processos_exp02_5" transform="translate(304,853.2)"><use href="#f1"/><text class="b" x="7.7" y="17.8">processos_exp02_5</text><text class="e" x="197.6" y="17.8">[table]</text><text x="5.5" y="44.8">...</text><text x="5.5" y="69.3">&lt; 2</text><text class="e" x="158.5" y="69.3">5,324 rows</text><text class="e" x="200.9" y="69.3">3 &gt;</text></g>
<g id="processos_exp02_6" transform="translate(304,958.6)"><use href="#f1"/><text class="b" x="7.7" y="17.8">processos_exp02_6</text><text class="e" x="197.6" y="17.8">[table]</text><text x="5.5" y="44.8">...</text><text x="5.5" y="69.3">&lt; 2</text><text class="e" x="158.5" y="69.3">16,263 rows</text><text class="e" x="200.9" y="69.3">3 &gt;</text></g>
<g id="processos_exp02_7" transform="translate(304,1063.9)"><use href="#f1"/><text class="b" x="7.7" y="17.8">processos_exp02_7</text><text class="e" x="197.6" y="17.8">[table]</text><text x="5.5" y="44.8">...</text><text x="5.5" y="69.3">&lt; 2</text><text class="e" x="158.5" y="69.3">50,124 rows</text><text class="e" x="200.9" y="69.3">3 &gt;</text></g>
<g id="processos_exp02_8" transform="translate(304,1169.3)"><use href="#f1"/><text class="b" x="7.7" y="17.8">processos_exp02_8</text><text class="e" x="197.6" y="17.8">[table]</text><text x="5.5" y="44.8">...</text><text x="5.5" y="69.3">&lt; 2</text><text class="e" x="158.5" y="69.3">33,667 rows</text><text class="e" x="200.9" y="69.3">3 &gt;</text></g>
<g id="processos_exp02_9" transform="translate(304,1274.7)"><use href="#f1"/><text class="b" x="7.7" y="17.8">processos_exp02_9</text><text class="e" x="197.6" y="17.8">[table]</text><text x="5.5" y="44.8">...</text><text x="5.5" y="69.3">&lt; 2</text><text class="e" x="158.5" y="69.3">25,782 rows</text><text class="e" x="200.9" y="69.3">3 &gt;</text></g>
<g id="public.processos_exp02" transform="translate(285.3,1380)"><rect class="bx" width="244" height="77.3"/><rect class="hd" width="244" height="30"/><path class="ln" d="M0,53.6H244M86.7,53.6V77.3M169,53.6V77.3"/><text class="b" x="7.7" y="17.8">public.processos_exp02</text><text class="e" x="235" y="17.8">[table]</text><text x="5.5" y="44.8">...</text><text x="5.5" y="69.3">&lt; 2</text><text class="e" x="164" y="69.3">0 rows</text><text class="e" x="238" y="69.3">120 &gt;</text></g>
<g id="processos_exp02_0" transform="translate(304,1485.4)"><use href="#f1"/><text class="b" x="7.7" y="17.8">processos_exp02_0</text><text class="e" x="197.6" y="17.8">[table]</text><text x="5.5" y="44.8">...</text><text x="5.5" y="69.3">&lt; 2</text><text class="e" x="158.5" y="69.3">31,139 rows</text><text class="e" x="200.9" y="69.3">3 &gt;</text></g>
<g id="processos_exp02_1" transform="translate(304,1590.7)"><use href="#f1"/><text class="b" x="7.7" y="17.8">processos_exp02_1</text><text class="e" x="197.6" y="17.8">[table]</text><text x="5.5" y="44.8">...</text><text x="5.5" y="69.3">&lt; 2</text><text class="e" x="158.5" y="69.3">107,476 rows</text><text class="e" x="200.9" y="69.3">3 &gt;</text></g>
<g id="processos_exp02_10" transform="translate(299.3,1696.1)"><use href="#f2"/><text class="b" x="8" y="17.8">processos_exp02_10</text><text class="e" x="207" y="17.8">[table]</text><text x="5.5" y="44.8">...</text><text x="5.5" y="69.3">&lt; 2</text><text class="e" x="163.5" y="69.3">100,250 rows</text><text class="e" x="210.3" y="69.3">3 &gt;</text></g>
<g id="processos_exp02_11" transform="translate(299.3,1801.5)"><use href="#f2b"/><text class="b" x="8" y="17.8">processos_exp02_11</text><text class="e" x="207" y="17.8">[table]</text><text x="5.5" y="44.8">...</text><text x="5.5" y="69.3">&lt; 2</text><text class="e" x="210.3" y="69.3">3 &gt;</text></g>
<g id="processos_exp02_12" transform="translate(299.3,1906.8)"><use href="#f2"/><text class="b" x="8" y="17.8">processos_exp02_12</text><text class="e" x="207" y="17.8">[table]</text><text x="5.5" y="44.8">...</text><text x="5.5" y="69.3">&lt; 2</text><text class="e" x="163.5" y="69.3">29,048 rows</text><text class="e" x="210.3" y="69.3">3 &gt;</text></g>
<g id="processos_exp02_13" transform="translate(299.3,2012.2)"><use href="#f2"/><text class="b" x="8" y="17.8">processos_exp02_13</text><text class="e" x="207" y="17.8">[table]</text><text x="5.5" y="44.8">...</text><text x="5.5" y="69.3">&lt; 2</text><text class="e" x="163.5" y="69.3">5,324 rows</text><text class="e" x="210.3" y="69.3">3 &gt;</text></g>
<g id="processos_exp02_14" transform="translate(299.3,2117.5)"><use href="#f2b"/><text class="b" x="8" y="17.8">processos_exp02_14</text><text class="e" x="207" y="17.8">[table]</text><text x="5.5" y="44.8">...</text><text x="5.5" y="69.3">&lt; 2</text><text class="e" x="210.3" y="69.3">3 &gt;</text></g>
<g id="processos_exp02_15" transform="translate(299.3,2222.9)"><use href="#f2"/><text class="b" x="8" y="17.8">processos_exp02_15</text><text class="e" x="207" y="17.8">[table]</text><text x="5.5" y="44.8">...</text><text x="5.5" y="69.3">&lt; 2</text><text class="e" x="163.5" y="69.3">91,089 rows</text><text class="e" x="210.3" y="69.3">3 &gt;</text></g>
<g id="processos_exp02_16" transform="translate(299.3,2328.3)"><use href="#f2b"/><text class="b" x="8" y="17.8">processos_exp02_16</text><text class="e" x="207" y="17.8">[table]</text><text x="5.5" y="44.8">...</text><text x="5.5" y="69.3">&lt; 2</text><text class="e" x="210.3" y="69.3">3 &gt;</text></g>
<g id="processos_exp02_17" transform="translate(299.3,2433.6)"><use href="#f2b"/><text class="b" x="8" y="17.8">processos_exp02_17</text><text class="e" x="207" y="17.8">[table]</text><text x="5.5" y="44.8">...</text><text x="5.5" y="69.3">&lt; 2</text><text class="e" x="210.3" y="69.3">3 &gt;</text></g>
<g id="processos_exp02_18" transform="translate(299.3,2539)"><use href="#f2b"/><text class="b" x="8" y="17.8">processos_exp02_18</text><text class="e" x="207" y="17.8">[table]</text><text x="5.5" y="44.8">...</text><text x="5.5" y="69.3">&lt; 2</text><text class="e" x="210.3" y="69.3">3 &gt;</text></g>
<g id="processos_exp02_19" transform="translate(299.3,2644.3)"><use href="#f2"/><text class="b" x="8" y="17.8">processos_exp02_19</text><text class="e" x="207" y="17.8">[table]</text><text x="5.5" y="44.8">...</text><text x="5.5" y="69.3">&lt; 2</text><text class="e" x="163.5" y="69.3">25,782 rows</text><text class="e" x="210.3" y="69.3">3 &gt;</text></g>
<g id="processos_exp02_2" transform="translate(304,2749.7)"><use href="#f1b"/><text class="b" x="7.7" y="17.8">processos_exp02_2</text><text class="e" x="197.6" y="17.8">[table]</text><text x="5.5" y="44.8">...</text><text x="5.5" y="69.3">&lt; 2</text><text class="e" x="200.9" y="69.3">3 &gt;</text></g>
<g id="processos_exp02_20" transform="translate(217.3,2855)"><rect class="bx" width="376" height="584.3"/><rect class="hd" width="376" height="31.7"/><path class="ln" d="M0,61H376M0,90.4H376M0,119.7H376M0,149H376M0,178.4H376M0,207.7H376M0,237H376M0,266.3H376M0,295.7H376M0,325H376M0,354.3H376M0,383.7H376M0,413H376M0,442.3H376M0,471.7H376M0,501H376M0,530.3H376M0,559.6H376M226.7,31.7V584.3M119.4,559.6V584.3"/><rect width="376" height="584.3" fill="none" stroke="#000" stroke-width="3"/><text class="b" x="11" y="19.3">processos_exp02_20</text><text class="e" x="366.7" y="19.3">[table]</text><text x="30.4" y="50.3">processoID</text><text x="231" y="50.3">bigserial[19]</text><text x="30.4" y="79.6">NPU</text><text x="231" y="79.6">varchar[2147483647]</text><text x="30.4" y="109">liminar</text><text x="231" y="109">bool[1]</text><text x="30.4" y="138.3">natureza</text><text x="231" y="138.3">varchar[2147483647]</text><text x="30.4" y="167.6">valorCausa</text><text x="231" y="167.6">varchar[2147483647]</text><text x="30.4" y="197">nivelSigilo</text><text x="231" y="197">varchar[2147483647]</text><text x="30.4" y="226.3">competencia</text><text x="231" y="226.3">varchar[2147483647]</text><text x="30.4" y="255.6">situacaoMigracao</text><text x="231" y="255.6">varchar[2147483647]</text><text x="30.4" y="284.9">justicaGratuita</text><text x="231" y="284.9">bool[1]</text><text x="30.4" y="314.3">dataAjuizamento</text><text x="231" y="314.3">timestamp[29,6]</text><use href="#key" x="16" y="336.7" fill="#bdbdbd"/><text x="30.4" y="343.6">assunto</text><text x="231" y="343.6">int4[10]</text><use href="#key" x="16" y="366" fill="#bdbdbd"/><text x="30.4" y="372.9">classe</text><text x="231" y="372.9">int4[10]</text><text x="30.4" y="402.3">ultimaAtualizacao</text><text x="231" y="402.3">timestamp[29,6]</text><text x="30.4" y="431.6">ultimoMovimento</text><text x="231" y="431.6">int8[19]</text><text x="30.4" y="460.9">dataPrimeiroMovimento</text><text x="231" y="460.9">timestamp[29,6]</text><text x="30.4" y="490.3">dataUltimoMovimento</text><text x="231" y="490.3">timestamp[29,6]</text><text x="30.4" y="519.6">unidadeID</text><text x="231" y="519.6">int8[19]</text><text x="30.4" y="548.9">anoPrimeiroMovimento</text><text x="231" y="548.9">int4[10]</text><text x="7.7" y="575.3">&lt; 2</text><text class="e" x="370" y="575.3">3 &gt;</text></g>
<g id="processos_exp02_21" transform="translate(299.3,3469)"><use href="#f2b"/><text class="b" x="8" y="17.8">processos_exp02_21</text><text class="e" x="207" y="17.8">[table]</text><text x="5.5" y="44.8">...</text><text x="5.5" y="69.3">&lt; 2</text><text class="e" x="210.3" y="69.3">3 &gt;</text></g>
<g id="processos_exp02_22" transform="translate(299.3,3574.4)"><use href="#f2"/><text class="b" x="8" y="17.8">processos_exp02_22</text><text class="e" x="207" y="17.8">[table]</text><text x="5.5" y="44.8">...</text><text x="5.5" y="69.3">&lt; 2</text><text class="e" x="163.5" y="69.3">30,581 rows</text><text class="e" x="210.3" y="69.3">3 &gt;</text></g>
<g id="processos_exp02_23" transform="translate(299.3,3679.7)"><use href="#f2"/><text class="b" x="8" y="17.8">processos_exp02_23</text><text class="e" x="207" y="17.8">[table]</text><text x="5.5" y="44.8">...</text><text x="5.5" y="69.3">&lt; 2</text><text class="e" x="163.5" y="69.3">11,179 rows</text><text class="e" x="210.3" y="69.3">3 &gt;</text></g>
<g id="processos_exp02_24" transform="translate(299.3,3785.1)"><use href="#f2b"/><text class="b" x="8" y="17.8">processos_exp02_24</text><text class="e" x="207" y="17.8">[table]</text><text x="5.5" y="44.8">...</text><text x="5.5" y="69.3">&lt; 2</text><text class="e" x="210.3" y="69.3">3 &gt;</text></g>
<g id="processos_exp02_25" transform="translate(299.3,3890.4)"><use href="#f2"/><text class="b" x="8" y="17.8">processos_exp02_25</text><text class="e" x="207" y="17.8">[table]</text><text x="5.5" y="44.8">...</text><text x="5.5" y="69.3">&lt; 2</text><text class="e" x="163.5" y="69.3">25,331 rows</text><text class="e" x="210.3" y="69.3">3 &gt;</text></g>
<g id="processos_exp02_26" transform="translate(299.3,3995.8)"><use href="#f2b"/><text class="b" x="8" y="17.8">processos_exp02_26</text><text class="e" x="207" y="17.8">[table]</text><text x="5.5" y="44.8">...</text><text x="5.5" y="69.3">&lt; 2</text><text class="e" x="210.3" y="69.3">3 &gt;</text></g>
<g id="processos_exp02_27" transform="translate(299.3,4101.2)"><use href="#f2b"/><text class="b" x="8" y="17.8">processos_exp02_27</text><text class="e" x="207" y="17.8">[table]</text><text x="5.5" y="44.8">...</text><text x="5.5" y="69.3">&lt; 2</text><text class="e" x="210.3" y="69.3">3 &gt;</text></g>
<g id="processos_exp02_28" transform="translate(299.3,4206.5)"><use href="#f2b"/><text class="b" x="8" y="17.8">processos_exp02_28</text><text class="e" x="207" y="17.8">[table]</text><text x="5.5" y="44.8">...</text><text x="5.5" y="69.3">&lt; 2</text><text class="e" x="210.3" y="69.3">3 &gt;</text></g>
<g id="processos_exp02_29" transform="translate(299.3,4311.9)"><use href="#f2"/><text class="b" x="8" y="17.8">processos_exp02_29</text><text class="e" x="207" y="17.8">[table]</text><text x="5.5" y="44.8">...</text><text x="5.5" y="69.3">&lt; 2</text><text class="e" x="163.5" y="69.3">42,733 rows</text><text class="e" x="210.3" y="69.3">3 &gt;</text></g>
<g id="processos_exp02_3" transform="translate(304,4417.2)"><use href="#f1b"/><text class="b" x="7.7" y="17.8">processos_exp02_3</text><text class="e" x="197.6" y="17.8">[table]</text><text x="5.5" y="44.8">...</text><text x="5.5" y="69.3">&lt; 2</text><text class="e" x="200.9" y="69.3">3 &gt;</text></g>
<g id="processos_exp02_30" transform="translate(299.3,4522.6)"><use href="#f2"/><text class="b" x="8" y="17.8">processos_exp02_30</text><text class="e" x="207" y="17.8">[table]</text><text x="5.5" y="44.8">...</text><text x="5.5" y="69.3">&lt; 2</text><text class="e" x="163.5" y="69.3">11,179 rows</text><text class="e" x="210.3" y="69.3">3 &gt;</text></g>
<g id="processos_exp02_31" transform="translate(299.3,4628)"><use href="#f2"/><text class="b" x="8" y="17.8">processos_exp02_31</text><text class="e" x="207" y="17.8">[table]</text><text x="5.5" y="44.8">...</text><text x="5.5" y="69.3">&lt; 2</text><text class="e" x="163.5" y="69.3">76,213 rows</text><text class="e" x="210.3" y="69.3">3 &gt;</text></g>
<g id="processos_exp02_32" transform="translate(299.3,4733.3)"><use href="#f2"/><text class="b" x="8" y="17.8">processos_exp02_32</text><text class="e" x="207" y="17.8">[table]</text><text x="5.5" y="44.8">...</text><text x="5.5" y="69.3">&lt; 2</text><text class="e" x="163.5" y="69.3">25,329 rows</text><text class="e" x="210.3" y="69.3">3 &gt;</text></g>
<g id="assuntos" transform="translate(15.7,2100)"><rect class="bx" width="136.3" height="106.7"/><rect class="hd" width="136.3" height="29"/><path class="ln" d="M0,58.7H136.3M0,82.7H136.3M17.6,82.7V106.7M98.6,82.7V106.7"/><text class="b" x="7.6" y="17.3">assuntos</text><text class="e" x="127" y="17.3">[table]</text><use href="#key" x="14.3" y="40" fill="#d4d40c"/><text x="44.6" y="47.3">id</text><text x="5" y="73.3">...</text><text class="e" x="93.6" y="97.7">5,366 rows</text><text class="e" x="131" y="97.7">40 &gt;</text></g>
<g id="classes" transform="translate(22.7,2234)"><rect class="bx" width="124" height="107.3"/><rect class="hd" width="124" height="30"/><path class="ln" d="M0,59.3H124M0,83.3H124M17.3,83.3V107.3M86.6,83.3V107.3"/><text class="b" x="6.6" y="18">classes</text><text class="e" x="115" y="18">[table]</text><use href="#key" x="14" y="41" fill="#d4d40c"/><text x="37.6" y="48">id</text><text x="5" y="74.3">...</text><text class="e" x="81.6" y="98.7">835 rows</text><text class="e" x="118.7" y="98.7">40 &gt;</text></g>
<g id="public.movimentos_exp02" transform="translate(661.7,2114.3)"><rect class="bx" width="265.6" height="194.7"/><rect class="hd" width="265.6" height="29"/><path class="ln" d="M0,58.4H265.6M0,87.7H265.6M0,117.1H265.6M0,146.4H265.6M0,170.7H265.6M105.3,170.7V194.7M189.3,170.7V194.7"/><text class="b" x="8.3" y="18.4">public.movimentos_exp02</text><text class="e" x="256.6" y="18.4">[table]</text><use href="#key" x="14.3" y="40.7" fill="#bdbdbd"/><use href="#key" x="14.3" y="70.1" fill="#bdbdbd"/><use href="#key" x="14.3" y="99.4" fill="#bdbdbd"/><use href="#key" x="14.3" y="128.8" fill="#bdbdbd"/><text x="51.6" y="46.7">processoID</text><text x="51.6" y="76.1">movimentoID</text><text x="51.6" y="105.4">unidadeID</text><text x="51.6" y="134.8">anoPrimeiroMovimento</text><text x="5" y="161.5">...</text><text x="5" y="186.4">&lt; 121</text><text class="e" x="185" y="186.4">0 rows</text><text class="e" x="260" y="186.4">117 &gt;</text></g>
<g id="complementos_exp02_4" transform="translate(996.7,174.3)"><use href="#c1"/><text class="b" x="7.3" y="17.4">complementos_exp02_4</text><text class="e" x="237.3" y="17.4">[table]</text><text x="5" y="45">...</text><text x="5" y="70">&lt; 3</text><text class="e" x="198.3" y="70">143,532 rows</text></g>
<g id="complementos_exp02_5" transform="translate(996.7,279.6)"><use href="#c1"/><text class="b" x="7.3" y="17.4">complementos_exp02_5</text><text class="e" x="237.3" y="17.4">[table]</text><text x="5" y="45">...</text><text x="5" y="70">&lt; 3</text><text class="e" x="198.3" y="70">33,420 rows</text></g>
<g id="complementos_exp02_6" transform="translate(996.7,385)"><use href="#c1"/><text class="b" x="7.3" y="17.4">complementos_exp02_6</text><text class="e" x="237.3" y="17.4">[table]</text><text x="5" y="45">...</text><text x="5" y="70">&lt; 3</text><text class="e" x="198.3" y="70">49,654 rows</text></g>
<g id="complementos_exp02_7" transform="translate(996.7,490.3)"><use href="#c1"/><text class="b" x="7.3" y="17.4">complementos_exp02_7</text><text class="e" x="237.3" y="17.4">[table]</text><text x="5" y="45">...</text><text x="5" y="70">&lt; 3</text><text class="e" x="198.3" y="70">128,136 rows</text></g>
<g id="complementos_exp02_8" transform="translate(996.7,595.7)"><use href="#c1"/><text class="b" x="7.3" y="17.4">complementos_exp02_8</text><text class="e" x="237.3" y="17.4">[table]</text><text x="5" y="45">...</text><text x="5" y="70">&lt; 3</text><text class="e" x="198.3" y="70">110,131 rows</text></g>
<g id="complementos_exp02_9" transform="translate(996.7,701)"><use href="#c1"/><text class="b" x="7.3" y="17.4">complementos_exp02_9</text><text class="e" x="237.3" y="17.4">[table]</text><text x="5" y="45">...</text><text x="5" y="70">&lt; 3</text><text class="e" x="198.3" y="70">75,734 rows</text></g>
<g id="complementos_exp02_0" transform="translate(996.7,806.3)"><use href="#c1"/><text class="b" x="7.3" y="17.4">complementos_exp02_0</text><text class="e" x="237.3" y="17.4">[table]</text><text x="5" y="45">...</text><text x="5" y="70">&lt; 3</text><text class="e" x="198.3" y="70">82,273 rows</text></g>
<g id="complementos_exp02_1" transform="translate(996.7,911.7)"><use href="#c1"/><text class="b" x="7.3" y="17.4">complementos_exp02_1</text><text class="e" x="237.3" y="17.4">[table]</text><text x="5" y="45">...</text><text x="5" y="70">&lt; 3</text><text class="e" x="198.3" y="70">340,855 rows</text></g>
<g id="complementos_exp02_10" transform="translate(992.2,1017)"><use href="#c2"/><text class="b" x="7.3" y="17.4">complementos_exp02_10</text><text class="e" x="246.3" y="17.4">[table]</text><text x="5" y="45">...</text><text x="5" y="70">&lt; 3</text><text class="e" x="202.5" y="70">256,276 rows</text></g>
<g id="complementos_exp02_11" transform="translate(992.2,1122.4)"><use href="#c2b"/><text class="b" x="7.3" y="17.4">complementos_exp02_11</text><text class="e" x="246.3" y="17.4">[table]</text><text x="5" y="45">...</text><text x="5" y="70">&lt; 3</text></g>
<g id="complementos_exp02_12" transform="translate(992.2,1227.7)"><use href="#c2"/><text class="b" x="7.3" y="17.4">complementos_exp02_12</text><text class="e" x="246.3" y="17.4">[table]</text><text x="5" y="45">...</text><text x="5" y="70">&lt; 3</text><text class="e" x="202.5" y="70">101,632 rows</text></g>
<g id="complementos_exp02_13" transform="translate(992.2,1333)"><use href="#c2"/><text class="b" x="7.3" y="17.4">complementos_exp02_13</text><text class="e" x="246.3" y="17.4">[table]</text><text x="5" y="45">...</text><text x="5" y="70">&lt; 3</text><text class="e" x="202.5" y="70">33,420 rows</text></g>
<g id="complementos_exp02_14" transform="translate(992.2,1438.4)"><use href="#c2b"/><text class="b" x="7.3" y="17.4">complementos_exp02_14</text><text class="e" x="246.3" y="17.4">[table]</text><text x="5" y="45">...</text><text x="5" y="70">&lt; 3</text></g>
<g id="complementos_exp02_15" transform="translate(992.2,1543.7)"><use href="#c2"/><text class="b" x="7.3" y="17.4">complementos_exp02_15</text><text class="e" x="246.3" y="17.4">[table]</text><text x="5" y="45">...</text><text x="5" y="70">&lt; 3</text><text class="e" x="202.5" y="70">350,123 rows</text></g>
<g id="complementos_exp02_16" transform="translate(992.2,1649.1)"><use href="#c2b"/><text class="b" x="7.3" y="17.4">complementos_exp02_16</text><text class="e" x="246.3" y="17.4">[table]</text><text x="5" y="45">...</text><text x="5" y="70">&lt; 3</text></g>
<g id="complementos_exp02_17" transform="translate(992.2,1754.4)"><use href="#c2b"/><text class="b" x="7.3" y="17.4">complementos_exp02_17</text><text class="e" x="246.3" y="17.4">[table]</text><text x="5" y="45">...</text><text x="5" y="70">&lt; 3</text></g>
<g id="complementos_exp02_18" transform="translate(992.2,1859.7)"><use href="#c2b"/><text class="b" x="7.3" y="17.4">complementos_exp02_18</text><text class="e" x="246.3" y="17.4">[table]</text><text x="5" y="45">...</text><text x="5" y="70">&lt; 3</text></g>
<g id="complementos_exp02_19" transform="translate(992.2,1965.1)"><use href="#c2"/><text class="b" x="7.3" y="17.4">complementos_exp02_19</text><text class="e" x="246.3" y="17.4">[table]</text><text x="5" y="45">...</text><text x="5" y="70">&lt; 3</text><text class="e" x="202.5" y="70">75,734 rows</text></g>
<g id="complementos_exp02_2" transform="translate(996.7,2070.4)"><use href="#c1b"/><text class="b" x="7.3" y="17.4">complementos_exp02_2</text><text class="e" x="237.3" y="17.4">[table]</text><text x="5" y="45">...</text><text x="5" y="70">&lt; 3</text></g>
<g id="complementos_exp02_20" transform="translate(992.2,2175.8)"><use href="#c2b"/><text class="b" x="7.3" y="17.4">complementos_exp02_20</text><text class="e" x="246.3" y="17.4">[table]</text><text x="5" y="45">...</text><text x="5" y="70">&lt; 3</text></g>
<g id="complementos_exp02_21" transform="translate(992.2,2281.1)"><use href="#c2b"/><text class="b" x="7.3" y="17.4">complementos_exp02_21</text><text class="e" x="246.3" y="17.4">[table]</text><text x="5" y="45">...</text><text x="5" y="70">&lt; 3</text></g>
<g id="complementos_exp02_22" transform="translate(992.2,2386.4)"><use href="#c2"/><text class="b" x="7.3" y="17.4">complementos_exp02_22</text><text class="e" x="246.3" y="17.4">[table]</text><text x="5" y="45">...</text><text x="5" y="70">&lt; 3</text><text class="e" x="202.5" y="70">67,798 rows</text></g>
<g id="complementos_exp02_23" transform="translate(992.2,2491.8)"><use href="#c2"/><text class="b" x="7.3" y="17.4">complementos_exp02_23</text><text class="e" x="246.3" y="17.4">[table]</text><text x="5" y="45">...</text><text x="5" y="70">&lt; 3</text><text class="e" x="202.5" y="70">38,152 rows</text></g>
<g id="complementos_exp02_24" transform="translate(992.2,2597.1)"><use href="#c2b"/><text class="b" x="7.3" y="17.4">complementos_exp02_24</text><text class="e" x="246.3" y="17.4">[table]</text><text x="5" y="45">...</text><text x="5" y="70">&lt; 3</text></g>
<g id="complementos_exp02_25" transform="translate(992.2,2702.5)"><use href="#c2"/><text class="b" x="7.3" y="17.4">complementos_exp02_25</text><text class="e" x="246.3" y="17.4">[table]</text><text x="5" y="45">...</text><text x="5" y="70">&lt; 3</text><text class="e" x="202.5" y="70">159,647 rows</text></g>
<g id="complementos_exp02_26" transform="translate(992.2,2807.8)"><use href="#c2b"/><text class="b" x="7.3" y="17.4">complementos_exp02_26</text><text class="e" x="246.3" y="17.4">[table]</text><text x="5" y="45">...</text><text x="5" y="70">&lt; 3</text></g>
<g id="complementos_exp02_27" transform="translate(992.2,2913.1)"><use href="#c2b"/><text class="b" x="7.3" y="17.4">complementos_exp02_27</text><text class="e" x="246.3" y="17.4">[table]</text><text x="5" y="45">...</text><text x="5" y="70">&lt; 3</text></g>
<g id="complementos_exp02_28" transform="translate(992.2,3018.5)"><use href="#c2b"/><text class="b" x="7.3" y="17.4">complementos_exp02_28</text><text class="e" x="246.3" y="17.4">[table]</text><text x="5" y="45">...</text><text x="5" y="70">&lt; 3</text></g>
<g id="complementos_exp02_29" transform="translate(992.2,3123.8)"><use href="#c2"/><text class="b" x="7.3" y="17.4">complementos_exp02_29</text><text class="e" x="246.3" y="17.4">[table]</text><text x="5" y="45">...</text><text x="5" y="70">&lt; 3</text><text class="e" x="202.5" y="70">220,124 rows</text></g>
<g id="complementos_exp02_3" transform="translate(996.7,3229.2)"><use href="#c1b"/><text class="b" x="7.3" y="17.4">complementos_exp02_3</text><text class="e" x="237.3" y="17.4">[table]</text><text x="5" y="45">...</text><text x="5" y="70">&lt; 3</text></g>
<g id="complementos_exp02_30" transform="translate(992.2,3334.5)"><use href="#c2"/><text class="b" x="7.3" y="17.4">complementos_exp02_30</text><text class="e" x="246.3" y="17.4">[table]</text><text x="5" y="45">...</text><text x="5" y="70">&lt; 3</text><text class="e" x="202.5" y="70">38,152 rows</text></g>
<g id="complementos_exp02_31" transform="translate(992.2,3439.8)"><use href="#c2"/><text class="b" x="7.3" y="17.4">complementos_exp02_31</text><text class="e" x="246.3" y="17.4">[table]</text><text x="5" y="45">...</text><text x="5" y="70">&lt; 3</text><text class="e" x="202.5" y="70">317,504 rows</text></g>
<g id="complementos_exp02_32" transform="translate(992.2,3545.2)"><use href="#c2"/><text class="b" x="7.3" y="17.4">complementos_exp02_32</text><text class="e" x="246.3" y="17.4">[table]</text><text x="5" y="45">...</text><text x="5" y="70">&lt; 3</text><text class="e" x="202.5" y="70">159,647 rows</text></g>
<g id="complementos_exp02_33" transform="translate(992.2,3650.5)"><use href="#c2"/><text class="b" x="7.3" y="17.4">complementos_exp02_33</text><text class="e" x="246.3" y="17.4">[table]</text><text x="5" y="45">...</text><text x="5" y="70">&lt; 3</text><text class="e" x="202.5" y="70">317,504 rows</text></g>
<g id="complementos_exp02_34" transform="translate(992.2,3755.9)"><use href="#c2"/><text class="b" x="7.3" y="17.4">complementos_exp02_34</text><text class="e" x="246.3" y="17.4">[table]</text><text x="5" y="45">...</text><text x="5" y="70">&lt; 3</text><text class="e" x="202.5" y="70">32,619 rows</text></g>
<g id="complementos_exp02_35" transform="translate(992.2,3861.2)"><use href="#c2b"/><text class="b" x="7.3" y="17.4">complementos_exp02_35</text><text class="e" x="246.3" y="17.4">[table]</text><text x="5" y="45">...</text><text x="5" y="70">&lt; 3</text></g>
<g id="complementos_exp02_36" transform="translate(992.2,3966.5)"><use href="#c2"/><text class="b" x="7.3" y="17.4">complementos_exp02_36</text><text class="e" x="246.3" y="17.4">[table]</text><text x="5" y="45">...</text><text x="5" y="70">&lt; 3</text><text class="e" x="202.5" y="70">549,117 rows</text></g>
<g id="complementos_exp02_37" transform="translate(992.2,4071.9)"><use href="#c2"/><text class="b" x="7.3" y="17.4">complementos_exp02_37</text><text class="e" x="246.3" y="17.4">[table]</text><text x="5" y="45">...</text><text x="5" y="70">&lt; 3</text><text class="e" x="202.5" y="70">33,420 rows</text></g>
<g id="complementos_exp02_38" transform="translate(992.2,4177.2)"><use href="#c2"/><text class="b" x="7.3" y="17.4">complementos_exp02_38</text><text class="e" x="246.3" y="17.4">[table]</text><text x="5" y="45">...</text><text x="5" y="70">&lt; 3</text><text class="e" x="202.5" y="70">3,003 rows</text></g>
</g>
<text x="16.7" y="4850" style="fill:#333">Generated by SchemaSpy</text>
</svg>
